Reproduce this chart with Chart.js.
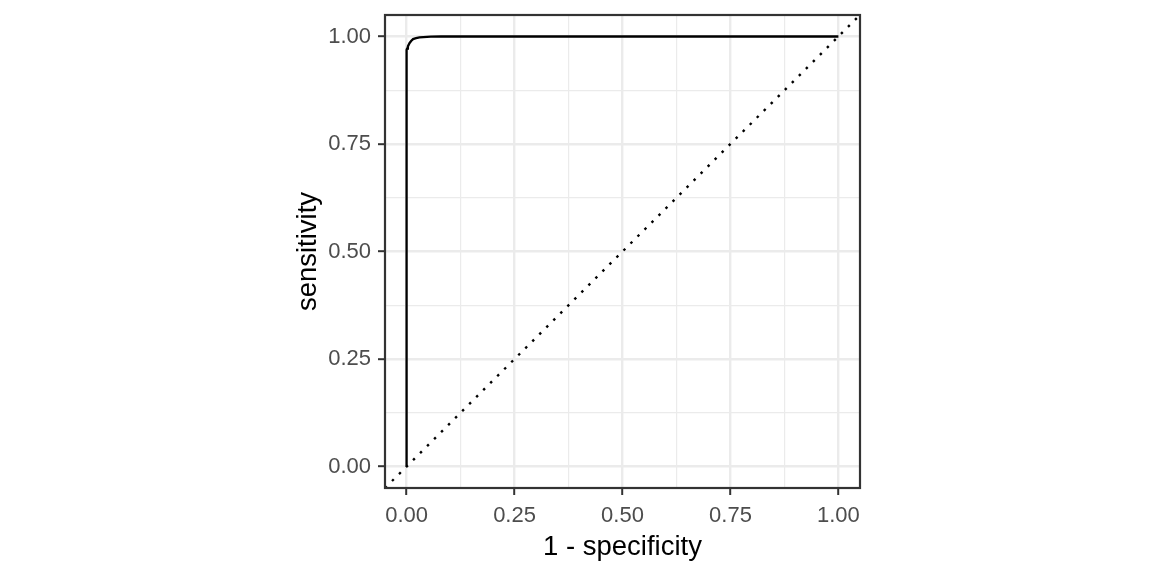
<!DOCTYPE html>
<html>
<head>
<meta charset="utf-8">
<script src="https://cdn.jsdelivr.net/npm/chart.js@4/dist/chart.umd.min.js"></script>
<style>
  html, body { margin: 0; padding: 0; background: #ffffff; }
  #wrap { width: 1152px; height: 576px; }
</style>
</head>
<body>
<div id="wrap"><canvas id="c" width="1152" height="576"></canvas></div>
<script>
// ROC curve: 1 - specificity (x) and sensitivity (y)
const oneMinusSpec = [0, 0, 0.001, 0.003, 0.007, 0.011, 0.015, 0.022, 0.030, 0.056, 0.080, 1.0];
const sensitivity  = [0, 0.969, 0.972, 0.977, 0.985, 0.990, 0.994, 0.996, 0.998, 0.9995, 1.0, 1.0];
// Reference diagonal (y = x) spanning the panel
const refX = [-0.05, 1.05];
const refY = [-0.05, 1.05];
// Axis breaks (major labelled, minor unlabelled)
const tickValues = [0, 0.125, 0.25, 0.375, 0.5, 0.625, 0.75, 0.875, 1.0];
const majorTicks = [0, 0.25, 0.5, 0.75, 1.0];
const axisMin = -0.05, axisMax = 1.05;
const xTitle = '1 - specificity';
const yTitle = 'sensitivity';

const FONT = "'Liberation Sans', Arial, sans-serif";
const isMajor = v => majorTicks.some(m => Math.abs(m - v) < 1e-9);

const panelBorder = {
  id: 'panelBorder',
  afterDatasetsDraw(chart) {
    const { ctx, chartArea: a } = chart;
    ctx.save();
    ctx.strokeStyle = '#333333';
    ctx.lineWidth = 2.2;
    ctx.strokeRect(a.left, a.top, a.right - a.left, a.bottom - a.top);
    ctx.restore();
  }
};

function axisCommon(titleText, titlePad, tickPad) {
  return {
    type: 'linear',
    min: axisMin,
    max: axisMax,
    afterBuildTicks: s => { s.ticks = tickValues.map(v => ({ value: v })); },
    border: { display: false },
    grid: {
      color: '#EBEBEB',
      lineWidth: c => (c.tick && isMajor(c.tick.value)) ? 2.4 : 1.2,
      drawTicks: true,
      tickLength: 7,
      tickWidth: 2,
      tickColor: c => (c.tick && isMajor(c.tick.value)) ? '#333333' : 'rgba(0,0,0,0)'
    },
    ticks: {
      autoSkip: false,
      maxRotation: 0,
      minRotation: 0,
      padding: tickPad,
      color: '#4D4D4D',
      font: { family: FONT, size: 22 },
      callback: v => isMajor(v) ? Number(v).toFixed(2) : ''
    },
    title: {
      display: true,
      text: titleText,
      color: '#000000',
      font: { family: FONT, size: 27.5 },
      padding: titlePad
    }
  };
}

const xScale = axisCommon(xTitle, { top: 0, bottom: 12 }, 8);
xScale.position = 'bottom';
xScale.afterFit = s => {
  s.height = 88;
  s.paddingLeft = 0; s.paddingRight = 0; s.paddingTop = 0; s.paddingBottom = 0;
};

const yScale = axisCommon(yTitle, { top: 292, bottom: 0 }, 7);
yScale.position = 'left';
yScale.afterFit = s => {
  s.width = 385;
  s.paddingLeft = 0; s.paddingRight = 0; s.paddingTop = 0; s.paddingBottom = 0;
};

new Chart(document.getElementById('c'), {
  type: 'scatter',
  data: {
    datasets: [
      {
        label: 'reference',
        data: refX.map((x, i) => ({ x, y: refY[i] })),
        showLine: true,
        borderColor: '#000000',
        borderWidth: 2.4,
        borderDash: [2.5, 7.4],
        borderCapStyle: 'butt',
        pointRadius: 0,
        fill: false,
        order: 2
      },
      {
        label: 'ROC',
        data: oneMinusSpec.map((x, i) => ({ x, y: sensitivity[i] })),
        showLine: true,
        borderColor: '#000000',
        borderWidth: 2.3,
        pointRadius: 0,
        tension: 0,
        fill: false,
        order: 1
      }
    ]
  },
  options: {
    responsive: false,
    animation: false,
    devicePixelRatio: 1,
    layout: { padding: { left: 0, right: 292, top: 15, bottom: 0 } },
    plugins: { legend: { display: false }, tooltip: { enabled: false } },
    scales: { x: xScale, y: yScale }
  },
  plugins: [panelBorder]
});
</script>
</body>
</html>
